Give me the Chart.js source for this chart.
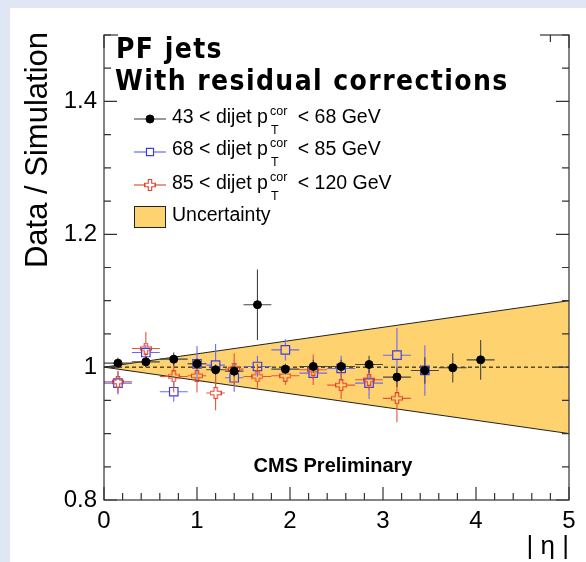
<!DOCTYPE html>
<html>
<head>
<meta charset="utf-8">
<script src="https://cdn.jsdelivr.net/npm/chart.js@4.4.1/dist/chart.umd.min.js"></script>
<style>
  html, body { margin: 0; padding: 0; background: #ffffff; }
  canvas { display: block; }
</style>
</head>
<body>
<canvas id="c" width="586" height="562" style="width:586px;height:562px"></canvas>
<script>
// Data / simulation response ratio vs |eta|, three dijet pT bins
const etaBlack     = [0.15, 0.45, 0.75, 1.0, 1.2, 1.4, 1.65, 1.95, 2.25, 2.55, 2.85, 3.15, 3.45, 3.75, 4.05];
const etaHalfBlack = [0.15, 0.15, 0.15, 0.1, 0.1, 0.1, 0.15, 0.15, 0.15, 0.15, 0.15, 0.15, 0.15, 0.15, 0.15];
const ratioBlack   = [1.006, 1.008, 1.012, 1.005, 0.996, 0.994, 1.094, 0.997, 1.001, 1.001, 1.004, 0.985, 0.995, 0.999, 1.011];
const errBlack     = [0.008, 0.008, 0.010, 0.008, 0.008, 0.008, 0.053, 0.008, 0.010, 0.010, 0.013, 0.015, 0.020, 0.022, 0.030];

const etaBlue      = [0.15, 0.45, 0.75, 1.0, 1.2, 1.4, 1.65, 1.95, 2.25, 2.55, 2.85, 3.15, 3.45];
const etaHalfBlue  = [0.15, 0.15, 0.15, 0.1, 0.1, 0.1, 0.15, 0.15, 0.15, 0.15, 0.15, 0.15, 0.15];
const ratioBlue    = [0.976, 1.022, 0.963, 1.005, 1.003, 0.984, 1.001, 1.026, 0.991, 0.998, 0.976, 1.018, 0.995];
const errBlue      = [0.017, 0.012, 0.015, 0.027, 0.032, 0.021, 0.016, 0.016, 0.010, 0.019, 0.024, 0.041, 0.038];

const etaRed       = [0.15, 0.45, 0.75, 1.0, 1.2, 1.4, 1.65, 1.95, 2.25, 2.55, 2.85, 3.15];
const etaHalfRed   = [0.15, 0.15, 0.15, 0.1, 0.1, 0.1, 0.15, 0.15, 0.15, 0.15, 0.15, 0.15];
const ratioRed     = [0.978, 1.028, 0.986, 0.987, 0.961, 0.997, 0.986, 0.987, 0.996, 0.973, 0.981, 0.953];
const errRed       = [0.017, 0.025, 0.024, 0.025, 0.026, 0.024, 0.019, 0.014, 0.023, 0.021, 0.015, 0.036];

// Systematic uncertainty band edges
const bandEta   = [0, 5];
const bandUpper = [1.0, 1.1];
const bandLower = [1.0, 0.9];

// Legend pT ranges (GeV)
const ptLow  = [43, 68, 85];
const ptHigh = [68, 85, 120];

const xTickLabels = ['0', '1', '2', '3', '4', '5'];
const yTickLabels = ['0.8', '1', '1.2', '1.4'];

const SANS = '"Liberation Sans", Arial, Helvetica, sans-serif';
const HEAD = '"DejaVu Sans Condensed", "DejaVu Sans", sans-serif';
const BAND_FILL = '#fed26f';
const BLUE = '#3f3fdc';
const RED = '#e2412a';

const pts = (xs, ys) => xs.map((x, i) => ({ x, y: ys[i] }));

// Open-cross marker
function openCross(color) {
  const c = document.createElement('canvas');
  c.width = 12; c.height = 12;
  const g = c.getContext('2d');
  const a = 0.5, b = 4.3, d = 7.7, e = 11.5;
  g.beginPath();
  g.moveTo(b, a); g.lineTo(d, a); g.lineTo(d, b); g.lineTo(e, b); g.lineTo(e, d);
  g.lineTo(d, d); g.lineTo(d, e); g.lineTo(b, e); g.lineTo(b, d); g.lineTo(a, d);
  g.lineTo(a, b); g.lineTo(b, b); g.closePath();
  g.strokeStyle = color; g.lineWidth = 1.1; g.stroke();
  return c;
}
const crossImg = openCross(RED);

const markerStyles = [
  { pointStyle: 'circle', radius: 4, backgroundColor: '#000000', borderColor: '#000000', borderWidth: 1, lineColor: '#555555' },
  { pointStyle: 'rect', radius: 6, backgroundColor: 'rgba(0,0,0,0)', borderColor: BLUE, borderWidth: 1.2, lineColor: '#6b6bf2' },
  { pointStyle: crossImg, radius: 6, backgroundColor: 'rgba(0,0,0,0)', borderColor: RED, borderWidth: 1, lineColor: '#e2553a' }
];

const panelPlugin = {
  id: 'panel',
  beforeDraw(chart) {
    const ctx = chart.ctx;
    ctx.save();
    ctx.fillStyle = '#e0e6f3';
    ctx.fillRect(0, 0, chart.width, chart.height);
    ctx.fillStyle = '#ffffff';
    ctx.fillRect(10, 8, chart.width - 10, chart.height - 8);
    ctx.restore();
  }
};

// Error bars drawn just before each series' markers
const errorBarPlugin = {
  id: 'errorBars',
  beforeDatasetDraw(chart, args) {
    const ds = chart.data.datasets[args.index];
    if (!ds.yErr) return;
    const xs = chart.scales.x, ys = chart.scales.y, ctx = chart.ctx;
    ctx.save();
    ctx.strokeStyle = ds.errColor;
    ctx.lineWidth = 1.1;
    const g = ds.gap;
    ds.data.forEach((p, i) => {
      const cx = xs.getPixelForValue(p.x), cy = ys.getPixelForValue(p.y);
      const x0 = xs.getPixelForValue(p.x - ds.xErr[i]), x1 = xs.getPixelForValue(p.x + ds.xErr[i]);
      const y0 = ys.getPixelForValue(p.y + ds.yErr[i]), y1 = ys.getPixelForValue(p.y - ds.yErr[i]);
      ctx.beginPath();
      if (cx - g > x0) { ctx.moveTo(x0, cy); ctx.lineTo(cx - g, cy); ctx.moveTo(cx + g, cy); ctx.lineTo(x1, cy); }
      if (cy - g > y0) { ctx.moveTo(cx, y0); ctx.lineTo(cx, cy - g); ctx.moveTo(cx, cy + g); ctx.lineTo(cx, y1); }
      ctx.stroke();
    });
    ctx.restore();
  }
};

function drawPtText(ctx, x, y, lo, hi) {
  ctx.fillStyle = '#000';
  ctx.textAlign = 'left';
  ctx.textBaseline = 'alphabetic';
  ctx.font = '19.5px ' + SANS;
  const head = lo + ' < dijet p';
  ctx.fillText(head, x, y);
  const xs = x + ctx.measureText(head).width + 2;
  ctx.font = '12.5px ' + SANS;
  ctx.fillText('cor', xs, y - 8);
  ctx.fillText('T', xs + 1, y + 11);
  const ws = ctx.measureText('cor').width;
  ctx.font = '19.5px ' + SANS;
  ctx.fillText(' < ' + hi + ' GeV', xs + ws + 5, y);
}

const framePlugin = {
  id: 'frame',
  afterDraw(chart) {
    const ctx = chart.ctx;
    const xs = chart.scales.x, ys = chart.scales.y;
    const { left, right, top, bottom } = chart.chartArea;
    ctx.save();
    ctx.strokeStyle = '#333333';
    ctx.lineWidth = 1.2;
    ctx.strokeRect(left, top, right - left, bottom - top);
    ctx.beginPath();
    xs.ticks.forEach(t => {
      const px = xs.getPixelForValue(t.value);
      const len = t.label ? 13 : 7;
      ctx.moveTo(px, bottom); ctx.lineTo(px, bottom - len);
      ctx.moveTo(px, top); ctx.lineTo(px, top + len);
    });
    ys.ticks.forEach(t => {
      const py = ys.getPixelForValue(t.value);
      const len = t.label ? 13 : 7;
      ctx.moveTo(left, py); ctx.lineTo(left + len, py);
      ctx.moveTo(right, py); ctx.lineTo(right - len, py);
    });
    ctx.stroke();

    // header box (white fill over the top frame)
    ctx.fillStyle = '#ffffff';
    ctx.fillRect(118, 28, 422, 20);

    // header text
    ctx.fillStyle = '#000';
    ctx.textAlign = 'left';
    ctx.textBaseline = 'alphabetic';
    const line2 = 'With residual corrections';
    ctx.font = 'bold 28px ' + HEAD;
    ctx.letterSpacing = '1.4px';
    ctx.fillText('PF jets', 116, 58);
    ctx.fillText(line2, 115, 90);
    ctx.letterSpacing = '0px';

    // legend
    const legY = [119, 152, 185];
    const textBase = [123, 155, 189];
    markerStyles.forEach((m, i) => {
      ctx.strokeStyle = m.lineColor;
      ctx.lineWidth = 1.2;
      ctx.beginPath();
      ctx.moveTo(134, legY[i]); ctx.lineTo(166, legY[i]);
      ctx.stroke();
      ctx.fillStyle = '#fff';
      if (i > 0) ctx.fillRect(146, legY[i] - 4, 8, 8);
      ctx.strokeStyle = m.borderColor;
      ctx.fillStyle = m.backgroundColor;
      ctx.lineWidth = m.borderWidth;
      Chart.helpers.drawPoint(ctx, { pointStyle: m.pointStyle, radius: i === 1 ? 5 : m.radius, borderWidth: m.borderWidth, rotation: 0 }, 150, legY[i]);
      drawPtText(ctx, 172, textBase[i], ptLow[i], ptHigh[i]);
    });
    ctx.fillStyle = BAND_FILL;
    ctx.fillRect(134.5, 206.5, 31, 21);
    ctx.strokeStyle = '#222';
    ctx.lineWidth = 1;
    ctx.strokeRect(134.5, 206.5, 31, 21);
    ctx.fillStyle = '#000';
    ctx.font = '19.5px ' + SANS;
    ctx.fillText('Uncertainty', 172, 221);

    // CMS label
    ctx.font = 'bold 20px ' + SANS;
    ctx.textAlign = 'center';
    ctx.fillText('CMS Preliminary', 333, 472);

    // axis titles
    ctx.font = '26px ' + SANS;
    ctx.textAlign = 'right';
    ctx.fillText('| η |', 569, 554);

    ctx.save();
    ctx.translate(47, 32);
    ctx.rotate(-Math.PI / 2);
    ctx.font = '31px ' + SANS;
    ctx.textAlign = 'right';
    ctx.fillText('Data / Simulation', 0, 0);
    ctx.restore();

    ctx.restore();
  }
};

const errSeries = (label, xs, xh, ys, ye, m, errColor, gap, order) => ({
  label,
  data: pts(xs, ys),
  xErr: xh, yErr: ye, errColor, gap,
  showLine: false,
  pointStyle: m.pointStyle,
  pointRadius: m.radius,
  pointBackgroundColor: m.backgroundColor,
  pointBorderColor: m.borderColor,
  pointBorderWidth: m.borderWidth,
  order
});

new Chart(document.getElementById('c'), {
  type: 'scatter',
  data: {
    datasets: [
      {
        label: 'Uncertainty',
        data: pts(bandEta, bandUpper),
        showLine: true, pointRadius: 0,
        borderColor: '#222222', borderWidth: 1,
        backgroundColor: BAND_FILL,
        fill: 1,
        order: 10
      },
      {
        label: 'band lower',
        data: pts(bandEta, bandLower),
        showLine: true, pointRadius: 0,
        borderColor: '#222222', borderWidth: 1,
        fill: false,
        order: 9
      },
      {
        label: 'unity',
        data: pts(bandEta, [1, 1]),
        showLine: true, pointRadius: 0,
        borderColor: '#000000', borderWidth: 1,
        borderDash: [4, 3],
        fill: false,
        order: 8
      },
      errSeries('68-85', etaBlue, etaHalfBlue, ratioBlue, errBlue, markerStyles[1], '#6b6bf2', 4.5, 3),
      errSeries('85-120', etaRed, etaHalfRed, ratioRed, errRed, markerStyles[2], '#e2553a', 5, 2),
      errSeries('43-68', etaBlack, etaHalfBlack, ratioBlack, errBlack, markerStyles[0], '#454545', 3, 1)
    ]
  },
  options: {
    responsive: false,
    animation: false,
    events: [],
    layout: { padding: { top: 35, right: 17, left: 0, bottom: 0 } },
    plugins: { legend: { display: false }, tooltip: { enabled: false } },
    scales: {
      x: {
        type: 'linear', min: 0, max: 5,
        grid: { display: false, drawTicks: false },
        border: { display: false },
        ticks: {
          stepSize: 0.2, autoSkip: false, maxRotation: 0, minRotation: 0, maxTicksLimit: 100,
          padding: 7, color: '#000', font: { family: SANS, size: 24 },
          callback: v => { const s = String(Math.round(v * 1000) / 1000); return xTickLabels.includes(s) ? s : ''; }
        },
        afterFit(s) { s.height = 62; }
      },
      y: {
        type: 'linear', min: 0.8, max: 1.5,
        grid: { display: false, drawTicks: false },
        border: { display: false },
        ticks: {
          stepSize: 0.05, autoSkip: false, maxTicksLimit: 100,
          padding: 7, color: '#000', font: { family: SANS, size: 24 },
          callback: v => { const s = String(Math.round(v * 1000) / 1000); return yTickLabels.includes(s) ? s : ''; }
        },
        afterFit(s) { s.width = 104; }
      }
    }
  },
  plugins: [panelPlugin, errorBarPlugin, framePlugin]
});
</script>
</body>
</html>
